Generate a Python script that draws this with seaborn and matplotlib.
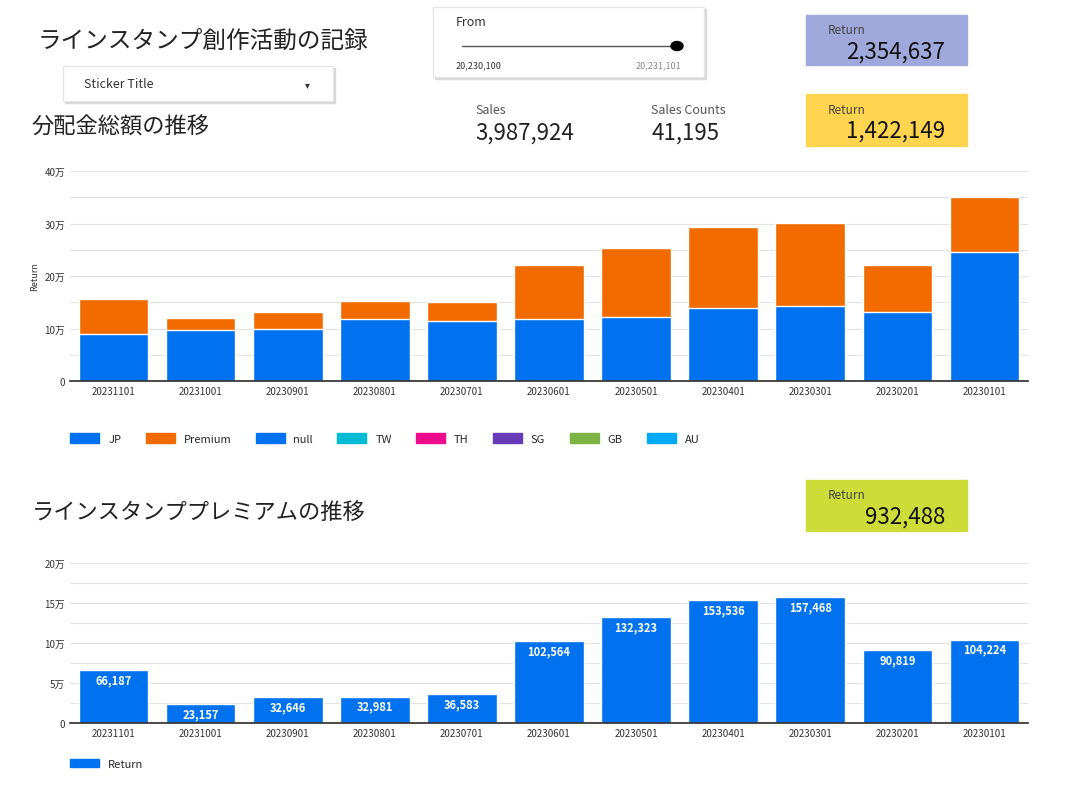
import matplotlib.pyplot as plt
import matplotlib.patches as mpatches
import pandas as pd
import seaborn as sns

sns.set_theme(style="white")
plt.rcParams["font.family"] = ["Noto Sans CJK JP", "DejaVu Sans"]

months = ["20231101", "20231001", "20230901", "20230801", "20230701", "20230601",
          "20230501", "20230401", "20230301", "20230201", "20230101"]
jp = [89800, 97000, 98500, 119000, 113500, 118500, 121000, 140000, 143000, 130500, 246000]
premium = [66187, 23157, 32646, 32981, 36583, 102564, 132323, 153536, 157468, 90819, 104224]
tw = [0, 0, 0, 0, 0, 1500, 1200, 1500, 1500, 1500, 800]

legend_names = ["JP", "Premium", "null", "TW", "TH", "SG", "GB", "AU"]
legend_colors = ["#0072EF", "#F26B00", "#0072EF", "#00BCD4", "#EC0C8C", "#673AB7", "#7CB342", "#03A9F4"]

W, H = 1071, 803
fig = plt.figure(figsize=(W / 100, H / 100), dpi=100)


def box(x0, y0, x1, y1):
    return [x0 / W, 1 - y1 / H, (x1 - x0) / W, (y1 - y0) / H]


def ftext(x, y, s, **kw):
    fig.text(x / W, 1 - y / H, s, va="center", **kw)


def fill_box(x0, y0, x1, y1, color, shadow=False):
    if shadow:
        fig.patches.append(mpatches.Rectangle((x0 / W + 0.002, 1 - y1 / H - 0.003), (x1 - x0) / W,
                                              (y1 - y0) / H, transform=fig.transFigure,
                                              color="#d8d8d8", zorder=0))
    fig.patches.append(mpatches.Rectangle((x0 / W, 1 - y1 / H), (x1 - x0) / W, (y1 - y0) / H,
                                          transform=fig.transFigure, facecolor=color,
                                          edgecolor="#e6e6e6" if shadow else color, zorder=1))


df = pd.DataFrame({"month": months, "jp": jp, "premium": premium, "tw": tw})
df["total"] = df["jp"] + df["premium"]
df["total_tw"] = df["total"] + df["tw"]

# header widgets
ftext(38, 41, "ラインスタンプ創作活動の記録", fontsize=17, color="#222222")
fill_box(63, 67, 333, 102, "white", shadow=True)
ftext(84, 85, "Sticker Title", fontsize=9, color="#333333")
ftext(305, 85, "▾", fontsize=7, color="#333333")
fill_box(433, 8, 704, 78, "white", shadow=True)
ftext(456, 23, "From", fontsize=9, color="#333333")
fig.lines.append(plt.Line2D([462 / W, 676 / W], [1 - 47 / H] * 2, transform=fig.transFigure,
                            color="#555555", lw=1))
fig.patches.append(mpatches.Ellipse((677 / W, 1 - 47 / H), 12 / W, 9 / H,
                                    transform=fig.transFigure, color="black", zorder=3))
ftext(456, 66, "20,230,100", fontsize=6.5, color="#333333")
ftext(636, 66, "20,231,101", fontsize=6.5, color="#888888")

ftext(475, 110, "Sales", fontsize=9, color="#555555")
ftext(475, 133, "3,987,924", fontsize=16, color="#222222")
ftext(651, 110, "Sales Counts", fontsize=9, color="#555555")
ftext(651, 133, "41,195", fontsize=16, color="#222222")

for (y0, y1, col, val) in [(16, 66, "#9FA8DA", "2,354,637"), (95, 147, "#FFD54F", "1,422,149"),
                           (481, 532, "#CDDC39", "932,488")]:
    fill_box(806, y0, 967, y1, col)
    ftext(828, y0 + 15, "Return", fontsize=8.5, color="#444444")
    ftext(945, y0 + 36, val, fontsize=16, color="#111111", ha="right")

ftext(32, 127, "分配金総額の推移", fontsize=16, color="#222222")
ftext(32, 512, "ラインスタンププレミアムの推移", fontsize=16, color="#222222")


def style_axis(ax, major, minor, top, labels):
    ax.set_ylim(0, top)
    ax.set_yticks(major)
    ax.set_yticklabels(labels, fontsize=7, color="#333333")
    ax.set_yticks(minor, minor=True)
    ax.grid(axis="y", which="both", color="#e4e4e4", lw=0.8)
    ax.set_axisbelow(True)
    for s in ["top", "right", "left"]:
        ax.spines[s].set_visible(False)
    ax.spines["bottom"].set_color("#333333")
    ax.tick_params(axis="x", labelsize=7, colors="#333333", length=0)
    ax.tick_params(axis="y", length=0, which="both")
    ax.set_xlabel("")


ax1 = fig.add_axes(box(70, 172, 1028, 382))
sns.barplot(data=df, x="month", y="total_tw", color="#00BCD4", width=0.8, saturation=1, ax=ax1)
sns.barplot(data=df, x="month", y="total", color="#F26B00", width=0.8, saturation=1, ax=ax1)
sns.barplot(data=df, x="month", y="jp", color="#0072EF", width=0.8, saturation=1, ax=ax1)
style_axis(ax1, [0, 100000, 200000, 300000, 400000], [50000, 150000, 250000, 350000],
           400000, ["0", "10万", "20万", "30万", "40万"])
ax1.set_ylabel("Return", fontsize=6.5, style="italic", color="#333333")
handles = [mpatches.Patch(color=c, label=n) for n, c in zip(legend_names, legend_colors)]
ax1.legend(handles=handles, loc="upper left", bbox_to_anchor=(-0.01, -0.2), ncol=8,
           frameon=False, fontsize=8, handlelength=2.6, handleheight=1.0, columnspacing=2.2)

ax2 = fig.add_axes(box(70, 564, 1028, 724))
sns.barplot(data=df, x="month", y="premium", color="#0072EF", width=0.8, saturation=1, ax=ax2)
style_axis(ax2, [0, 50000, 100000, 150000, 200000], [25000, 75000, 125000, 175000],
           200000, ["0", "5万", "10万", "15万", "20万"])
ax2.set_ylabel("")
for i, v in enumerate(premium):
    ax2.text(i, v - 4000, f"{v:,}", ha="center", va="top", color="white", fontsize=8, weight="bold")
ax2.legend(handles=[mpatches.Patch(color="#0072EF", label="Return")], loc="upper left",
           bbox_to_anchor=(-0.01, -0.16), frameon=False, fontsize=8, handlelength=2.6)

fig.savefig("out.png", dpi=100)
